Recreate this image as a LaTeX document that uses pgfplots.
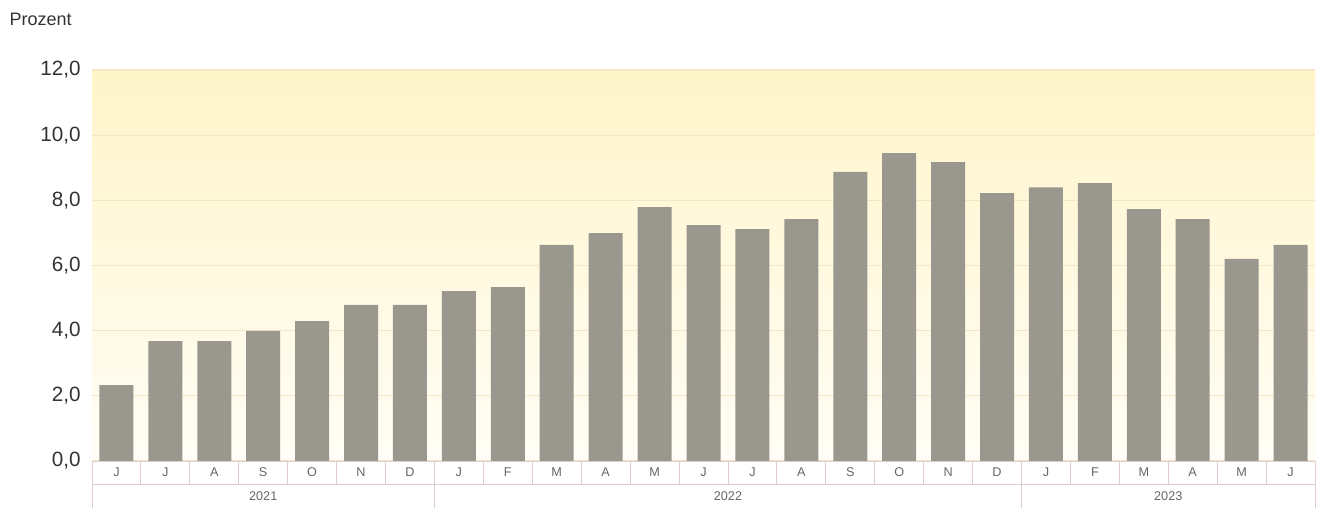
\documentclass[border=0pt]{standalone}
\usepackage{pgfplots}
\pgfplotsset{compat=1.18}
\usepackage{fontspec}
\setmainfont{Liberation Sans}
\definecolor{bartone}{HTML}{9A978E}
\definecolor{bgtop}{HTML}{FFF5CA}
\definecolor{bgbot}{HTML}{FFFDF6}
\definecolor{gridc}{HTML}{F2E7C6}
\definecolor{tabline}{HTML}{DECDCB}
\definecolor{labc}{HTML}{666666}
\definecolor{tickc}{HTML}{333333}
\begin{document}
\begin{tikzpicture}
\useasboundingbox (-69pt,-35.25pt) rectangle (920.25pt,345.75pt);
\begin{axis}[
  at={(0,0)}, anchor=south west,
  scale only axis,
  width=917.25pt, height=293.25pt,
  xmin=-0.5, xmax=24.5, ymin=0, ymax=12,
  axis background/.style={top color=bgtop, bottom color=bgbot},
  axis line style={draw=none},
  major tick length=0pt,
  ytick={0,2,4,6,8,10,12},
  ymajorgrids, grid style={gridc, line width=0.8pt},
  yticklabel style={font=\fontsize{15.5}{18}\selectfont, text=tickc, xshift=-5pt},
  /pgf/number format/.cd, use comma, fixed, fixed zerofill, precision=1, assume math mode=true,
  /pgfplots/.cd,
  xtick={0,...,24},
  xticklabels={J,J,A,S,O,N,D,J,F,M,A,M,J,J,A,S,O,N,D,J,F,M,A,M,J},
  xticklabel style={font=\fontsize{9.5}{11}\selectfont, text=labc, anchor=center, yshift=-8.6pt},
  clip=false,
]
\addplot[ybar, bar width=25.5pt, fill=bartone, draw=none] coordinates {
(0,2.33) (1,3.68) (2,3.68) (3,3.99) (4,4.29) (5,4.79) (6,4.79)
(7,5.21) (8,5.34) (9,6.63) (10,6.99) (11,7.79) (12,7.24) (13,7.12)
(14,7.42) (15,8.87) (16,9.45) (17,9.17) (18,8.22)
(19,8.40) (20,8.53) (21,7.73) (22,7.42) (23,6.20) (24,6.63)
};
\end{axis}
\draw[tabline, line width=0.7pt] (0,0) -- (917.25pt,0);
\draw[tabline, line width=0.7pt] (0,-17.25pt) -- (917.25pt,-17.25pt);
\foreach \k in {0,...,25} \draw[tabline, line width=0.7pt] (\k*36.69pt,0) -- (\k*36.69pt,-17.25pt);
\foreach \k in {0,7,19,25} \draw[tabline, line width=0.7pt] (\k*36.69pt,-17.25pt) -- (\k*36.69pt,-35.25pt);
\node[font=\fontsize{9.5}{11}\selectfont, text=labc] at (3.5*36.69pt,-26.25pt) {2021};
\node[font=\fontsize{9.5}{11}\selectfont, text=labc] at (13*36.69pt,-26.25pt) {2022};
\node[font=\fontsize{9.5}{11}\selectfont, text=labc] at (22*36.69pt,-26.25pt) {2023};
\node[anchor=west, font=\fontsize{13.5}{16}\selectfont, text=tickc, inner sep=0pt] at (-62pt,331.5pt) {Prozent};
\end{tikzpicture}
\end{document}
